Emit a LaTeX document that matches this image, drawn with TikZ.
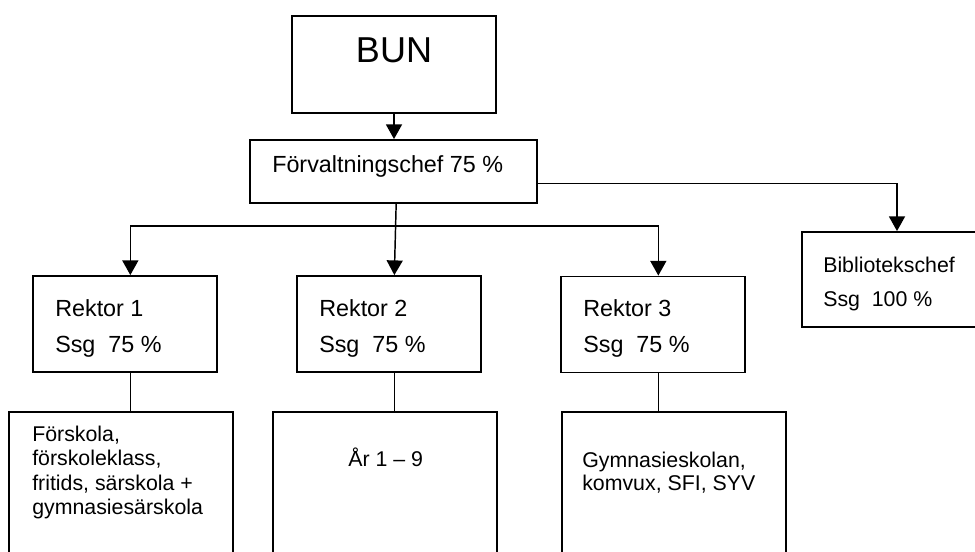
\documentclass[tikz,border=0pt]{standalone}
\usepackage{fontspec}
\setmainfont{Liberation Sans}
\usetikzlibrary{arrows.meta}

\begin{document}
\begin{tikzpicture}[
    x=0.75pt, y=-0.75pt,
    box/.style={draw, line width=1.4pt, inner sep=0pt},
    rektor/.style={box, minimum width=138pt, minimum height=72pt},
    skola/.style={box, minimum width=168pt, minimum height=120pt},
    txt/.style={anchor=base west, inner sep=0pt, font=\fontsize{17.5}{21}\selectfont},
    small/.style={txt, font=\fontsize{16}{19}\selectfont},
    post/.style={-{Triangle[width=12pt,length=11pt]}, line width=1.1pt},
    link/.style={line width=1.1pt}
    ]
\useasboundingbox (0,0) rectangle (975,551);
\clip (0,0) rectangle (975,551);

\node[box, minimum width=153pt, minimum height=72.75pt] (bun) at (394,64.5) {};
\node[anchor=base, inner sep=0pt, font=\fontsize{27}{32}\selectfont] (buntxt) at (394,62) {BUN};

\node[box, minimum width=215.25pt, minimum height=47.25pt] (forv) at (393.5,171.5) {};
\node[txt] (forvtxt) at (272,172) {Förvaltningschef 75 \%};

\node[rektor] (rek1) at (125,324) {};
\node[rektor] (rek2) at (389,324) {};
\node[rektor] (rek3) at (653,324.5) {};
\node[txt] (rek1a) at (55,316) {Rektor 1};
\node[txt] (rek1b) at (55,352) {Ssg\ \ 75 \%};
\node[txt] (rek2a) at (319,316) {Rektor 2};
\node[txt] (rek2b) at (319,352) {Ssg\ \ 75 \%};
\node[txt] (rek3a) at (583,316) {Rektor 3};
\node[txt] (rek3b) at (583,352) {Ssg\ \ 75 \%};

\node[box, minimum width=142.5pt, minimum height=71.25pt] (bib) at (897,279.5) {};
\node[small] (biba) at (823,272) {Bibliotekschef};
\node[small] (bibb) at (823,306) {Ssg\ \ 100 \%};

\node[skola] (sk1) at (121,492) {};
\node[skola] (sk2) at (385,492) {};
\node[skola] (sk3) at (674,492) {};
\node[small] (sk1a) at (32,441) {Förskola,};
\node[small] (sk1b) at (32,465.5) {förskoleklass,};
\node[small] (sk1c) at (32,490) {fritids, särskola +};
\node[small] (sk1d) at (32,514) {gymnasiesärskola};
\node[small] (sk2a) at (348,466) {År 1 – 9};
\node[small] (sk3a) at (582,467) {Gymnasieskolan,};
\node[small] (sk3b) at (582,490) {komvux, SFI, SYV};

\coordinate (fork) at (396,226);

\draw[post] (bun.south) -- (bun.south |- forv.north);
\draw[post] ([xshift=2pt]forv.south) -- ([xshift=4pt]rek2.north);
\draw[post] (fork) -| ([xshift=4pt]rek1.north);
\draw[post] (fork) -| ([xshift=4pt]rek3.north);
\draw[post] ([yshift=-9pt]forv.east) -| (bib.north);

\draw[link] ([xshift=4pt]rek1.south) -- ([xshift=4pt]rek1.south |- sk1.north);
\draw[link] ([xshift=4pt]rek2.south) -- ([xshift=4pt]rek2.south |- sk2.north);
\draw[link] ([xshift=4pt]rek3.south) -- ([xshift=4pt]rek3.south |- sk3.north);

\end{tikzpicture}
\end{document}
